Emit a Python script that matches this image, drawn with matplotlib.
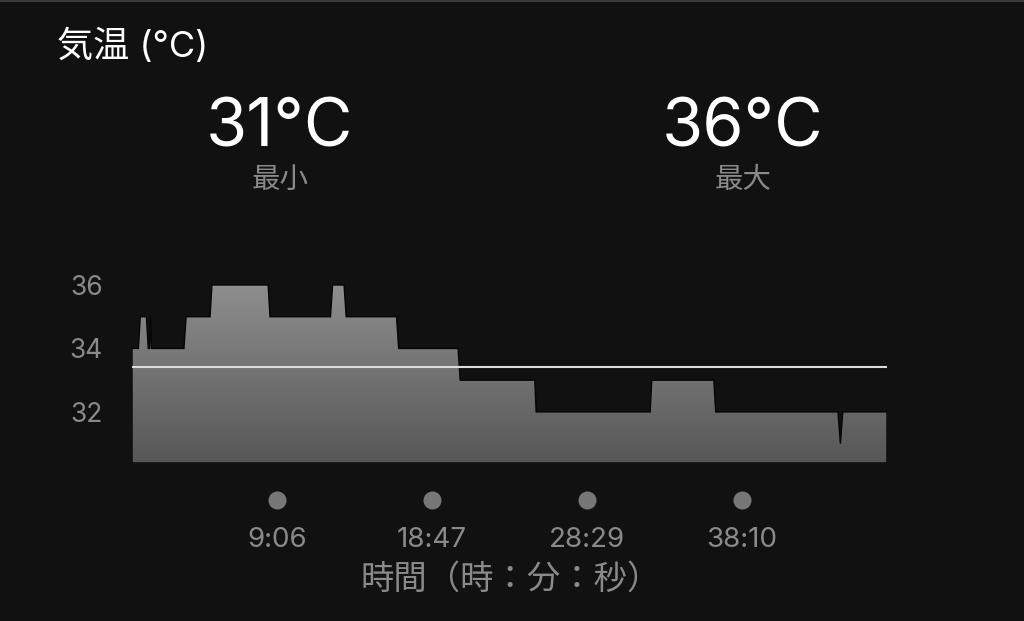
import numpy as np
import matplotlib
matplotlib.use("Agg")
import matplotlib.pyplot as plt
from matplotlib.patches import Polygon
from matplotlib.colors import LinearSegmentedColormap

# ---- data ----
time_s = [0, 24, 31, 54, 61, 66, 69, 73, 195, 203, 293, 300, 511, 518, 745, 753,
          796, 804, 993, 1001, 1224, 1232, 1512, 1517, 1945, 1951, 2184, 2191,
          2650, 2659, 2668, 2834]
temp_c = [34, 34, 35, 35, 34, 34, 35, 34, 34, 35, 35, 36, 36, 35, 35, 36,
          36, 35, 35, 34, 34, 33, 33, 32, 32, 33, 33, 32,
          32, 31, 32, 32]
avg_temp = 33.43
min_temp = 31
max_temp = 36
y_ticks = [32, 34, 36]
x_ticks = [546, 1127, 1709, 2290]
x_tick_labels = ["9:06", "18:47", "28:29", "38:10"]

title = "気温 (°C)"
min_label = "最小"
max_label = "最大"
x_label = "時間（時：分：秒）"

FONT = ["Inter", "Noto Sans CJK JP", "DejaVu Sans"]
plt.rcParams["font.family"] = FONT

BG = "#111111"
GRAY = "#8a8a8a"

W, H = 1024, 621
fig = plt.figure(figsize=(W / 100, H / 100), dpi=100, facecolor=BG)

# top border line
fig.add_artist(plt.Line2D([0, 1], [1 - 1.0 / H, 1 - 1.0 / H], color="#3a3a3a", lw=1.5,
                          transform=fig.transFigure))

ybot, ytop = 30.39, 36.5
ax_left, ax_right = 132, 887
ax_bottom_px = 463
ax_top_px = 285 - (ytop - 36) * 31.75
ax = fig.add_axes([ax_left / W, (H - ax_bottom_px) / H,
                   (ax_right - ax_left) / W, (ax_bottom_px - ax_top_px) / H])
ax.set_facecolor(BG)
for s in ax.spines.values():
    s.set_visible(False)
ax.set_xlim(time_s[0], time_s[-1])
ax.set_ylim(ybot, ytop)

# gradient-filled area
verts = [(time_s[0], ybot)] + list(zip(time_s, temp_c)) + [(time_s[-1], ybot)]
poly = Polygon(verts, closed=True, facecolor="none", edgecolor="#050505", lw=1.0,
               transform=ax.transData, zorder=3)
ax.add_patch(poly)
cmap = LinearSegmentedColormap.from_list("g", ["#575757", "#8e8e8e"])
grad = np.linspace(0, 1, 256).reshape(-1, 1)
im = ax.imshow(grad, cmap=cmap, aspect="auto", origin="lower",
               extent=[time_s[0], time_s[-1], ybot, 36], zorder=2)
im.set_clip_path(poly)

# average line
ax.plot([time_s[0], time_s[-1]], [avg_temp, avg_temp], color="#dcdcdc", lw=1.5,
        zorder=4, solid_capstyle="butt")

# y ticks
ax.set_yticks(y_ticks)
ax.set_yticklabels([str(v) for v in y_ticks])
ax.tick_params(axis="y", length=0, pad=21, labelsize=19, labelcolor=GRAY)

# x ticks: dots + labels
ax.set_xticks(x_ticks)
ax.set_xticklabels(x_tick_labels)
ax.tick_params(axis="x", length=0, pad=46, labelsize=20, labelcolor=GRAY)
ax_h_px = ax_bottom_px - ax_top_px
ax.plot(x_ticks, [-(500 - ax_bottom_px) / ax_h_px] * len(x_ticks), "o",
        color="#777777", markersize=13, markeredgewidth=0,
        transform=ax.get_xaxis_transform(), clip_on=False)

# texts
fig.text(57 / W, 1 - 46 / H, title, color="white", fontsize=26, ha="left", va="center")
fig.text(280 / W, 1 - 147 / H, f"{min_temp}°C", color="white", fontsize=48,
         ha="center", va="baseline")
fig.text(743 / W, 1 - 147 / H, f"{max_temp}°C", color="white", fontsize=48,
         ha="center", va="baseline")
fig.text(280 / W, 1 - 180 / H, min_label, color=GRAY, fontsize=20.5, ha="center", va="center")
fig.text(743 / W, 1 - 180 / H, max_label, color=GRAY, fontsize=20.5, ha="center", va="center")
fig.text(511 / W, 1 - 580 / H, x_label, color=GRAY, fontsize=24, ha="center", va="center")

fig.savefig("out.png", dpi=100, facecolor=BG)
